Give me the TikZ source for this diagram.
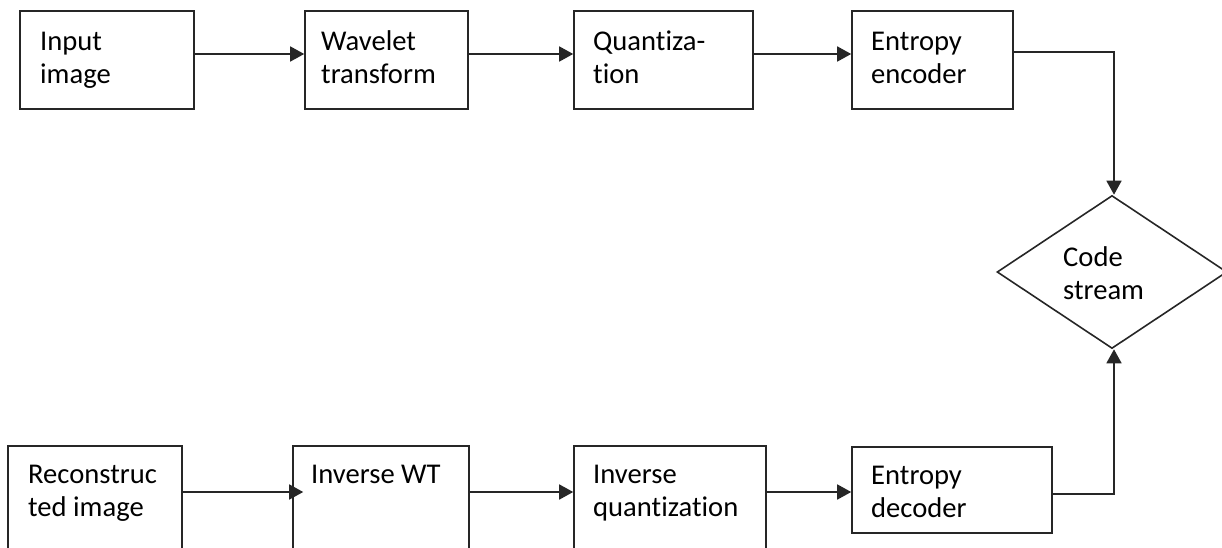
\documentclass[tikz,border=0pt]{standalone}
\usepackage{fontspec}
\setmainfont{Carlito}[Ligatures=NoCommon]
\usetikzlibrary{arrows.meta,shapes.geometric}
\definecolor{ln}{HTML}{262626}
\tikzset{
  box/.style={draw=ln, line width=1.6pt, rectangle, inner sep=0pt, fill=white},
  lbl/.style={anchor=north west, inner sep=0pt, align=left, font=\fontsize{28.6}{33.5}\selectfont, text=black},
  conn/.style={draw=ln, line width=1.6pt, -{Triangle[length=14pt,width=15pt]}},
}
\begin{document}
\begin{tikzpicture}[x=1pt,y=-1pt]
\useasboundingbox (0,0) rectangle (1222,548);
% top row
\node[box, minimum width=174pt, minimum height=98pt] (in) at (107,60) {};
\node[box, minimum width=163pt, minimum height=98pt] (wt) at (386.5,60) {};
\node[box, minimum width=179pt, minimum height=98pt] (q) at (663.5,60) {};
\node[box, minimum width=161pt, minimum height=98pt] (ee) at (932.5,60) {};
% diamond
\node[draw=ln, line width=1.6pt, shape=diamond, minimum width=230pt, minimum height=153pt, inner sep=0pt] (cs) at (1112,272) {};
% bottom row
\node[box, minimum width=174pt, minimum height=124pt] (rec) at (95,508) {};
\node[box, minimum width=176pt, minimum height=124pt] (iwt) at (381,508) {};
\node[box, minimum width=192pt, minimum height=124pt] (iq) at (670,508) {};
\node[box, minimum width=200pt, minimum height=86pt] (ed) at (952,490) {};
% labels
\node[lbl] (tin) at (40,26.5) {\strut Input\\image};
\node[lbl] (twt) at (321,26.5) {\strut Wavelet\\transform};
\node[lbl] (tq) at (593,26.5) {\strut Quantiza-\\tion};
\node[lbl] (tee) at (871,26.5) {\strut Entropy\\encoder};
\node[lbl] (tcs) at (1063,242.5) {\strut Code\\stream};
\node[lbl] (trec) at (28,459.5) {\strut Reconstruc\\ted image};
\node[lbl] (tiwt) at (311,459.5) {\strut Inverse WT};
\node[lbl] (tiq) at (593,459.5) {\strut Inverse\\quantization};
\node[lbl] (ted) at (871,460.5) {\strut Entropy\\decoder};
% connectors
\draw[conn] ([yshift=6pt]in.east) -- ([yshift=6pt]wt.west);
\draw[conn] ([yshift=6pt]wt.east) -- ([yshift=6pt]q.west);
\draw[conn] ([yshift=6pt]q.east) -- ([yshift=6pt]ee.west);
\draw[conn] ([yshift=8pt]ee.east) -| ([xshift=2pt]cs.north);
\draw[conn] ([yshift=16pt]rec.east) -- ([xshift=11pt,yshift=16pt]iwt.west);
\draw[conn] ([yshift=16pt]iwt.east) -- ([yshift=16pt]iq.west);
\draw[conn] ([yshift=16pt]iq.east) -- ([yshift=-2pt]ed.west);
\draw[conn] ([yshift=-4pt]ed.east) -| ([xshift=2pt]cs.south);
\end{tikzpicture}
\end{document}
